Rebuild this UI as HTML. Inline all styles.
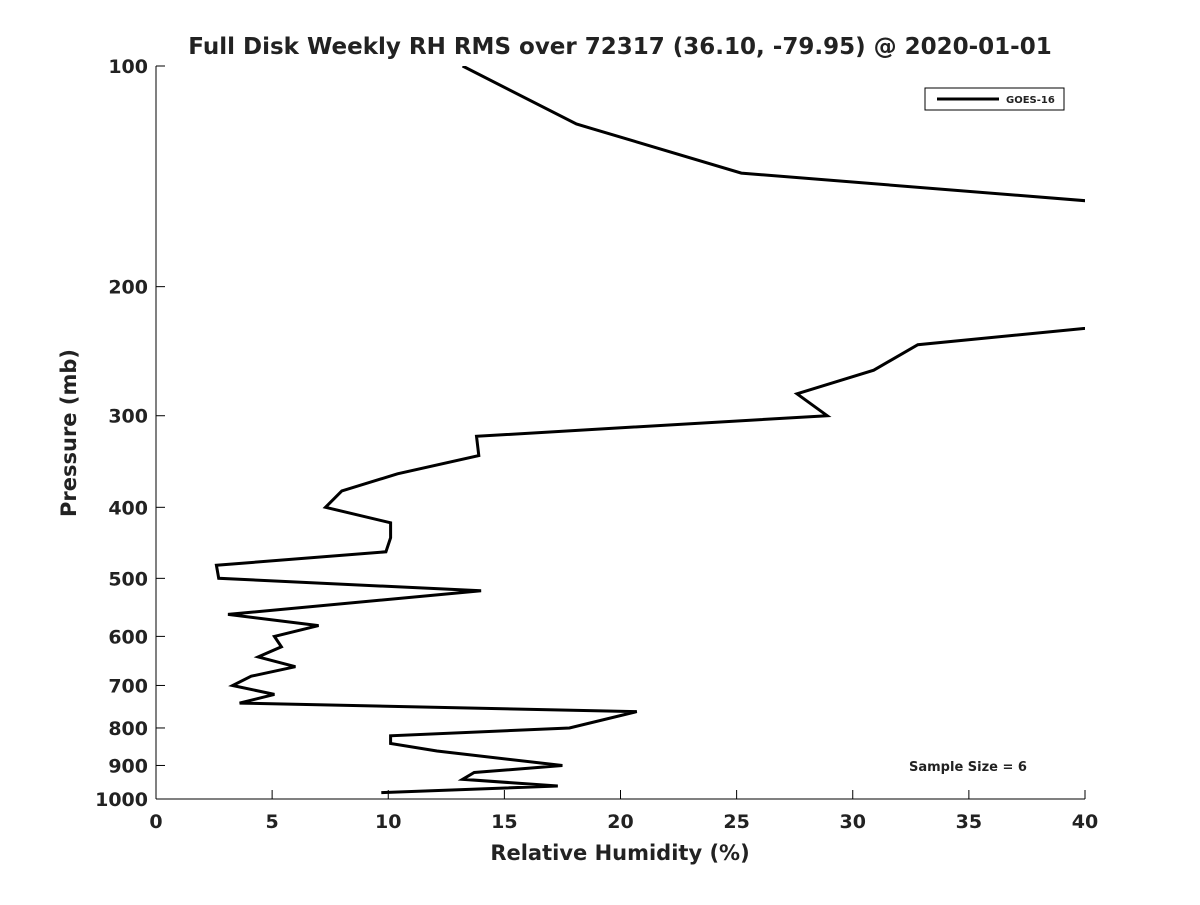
<!DOCTYPE html>
<html><head><meta charset="utf-8"><style>
body{margin:0;background:#fff}
svg text{font-family:"DejaVu Sans","Liberation Sans",sans-serif;font-weight:bold;fill:#222}
</style></head><body>
<svg id="chart" width="1200" height="900">
<defs><clipPath id="clip"><rect x="156" y="66" width="929" height="733"/></clipPath></defs>
<text x="620" y="54" text-anchor="middle" font-size="23">Full Disk Weekly RH RMS over 72317 (36.10, -79.95) @ 2020-01-01</text>
<g id="axes"></g>
<path id="line" fill="none" stroke="#000" stroke-width="3" clip-path="url(#clip)"/>
<g>
<rect x="925" y="88" width="139" height="22" fill="#fff" stroke="#000" stroke-width="1"/>
<line x1="937" y1="99" x2="999" y2="99" stroke="#000" stroke-width="3"/>
<text x="1006" y="103" font-size="10">GOES-16</text>
</g>
<text x="968" y="771" text-anchor="middle" font-size="13">Sample Size = 6</text>
<text x="620" y="860" text-anchor="middle" font-size="21">Relative Humidity (%)</text>
<text transform="translate(76,433) rotate(-90)" text-anchor="middle" font-size="21">Pressure (mb)</text>
</svg>
<script>
const pressures=[100,120,140,160,220,228,240,260,280,300,320,340,360,380,400,420,440,460,480,500,520,560,580,600,620,640,660,680,700,720,740,760,800,820,840,860,900,920,940,960,980];
const rhValues=[13.2,18.1,25.2,48,44,40,32.8,30.9,27.6,28.9,13.8,13.9,10.4,8.0,7.3,10.1,10.1,9.9,2.6,2.7,14.0,3.1,7.0,5.1,5.4,4.4,6.0,4.1,3.3,5.1,3.6,20.7,17.8,10.1,10.1,12.1,17.5,13.7,13.2,17.3,9.7];
const xTicks=[0,5,10,15,20,25,30,35,40];
const yTicks=[100,200,300,400,500,600,700,800,900,1000];
const X0=156,X1=1085,Y0=66,Y1=799;
const xs=v=>X0+(v-0)/40*(X1-X0);
const ys=p=>Y0+Math.log10(p/100)*(Y1-Y0);
const ns="http://www.w3.org/2000/svg";
const ax=document.getElementById('axes');
function mk(t,a){const e=document.createElementNS(ns,t);for(const k in a)e.setAttribute(k,a[k]);ax.appendChild(e);return e;}
const xa=mk('line',{x1:X0,y1:Y1,x2:X1,y2:Y1,stroke:'#000','stroke-width':1});


const ya=mk('line',{x1:X0,y1:Y0,x2:X0,y2:Y1,stroke:'#000','stroke-width':1});


xTicks.forEach(v=>{
 mk('line',{x1:xs(v),y1:Y1,x2:xs(v),y2:Y1-9,stroke:'#000'});
 const t=mk('text',{x:xs(v),y:Y1+29,'text-anchor':'middle','font-size':19});
 t.textContent=v;
 
 
});
yTicks.forEach(p=>{
 mk('line',{x1:X0,y1:ys(p),x2:X0+9,y2:ys(p),stroke:'#000'});
 const t=mk('text',{x:X0-8,y:ys(p)+7,'text-anchor':'end','font-size':19});
 t.textContent=p;
 
 
});
document.getElementById('line').setAttribute('d',pressures.map((p,i)=>(i?'L':'M')+xs(rhValues[i]).toFixed(1)+','+ys(p).toFixed(1)).join(''));
</script>
</body></html>
